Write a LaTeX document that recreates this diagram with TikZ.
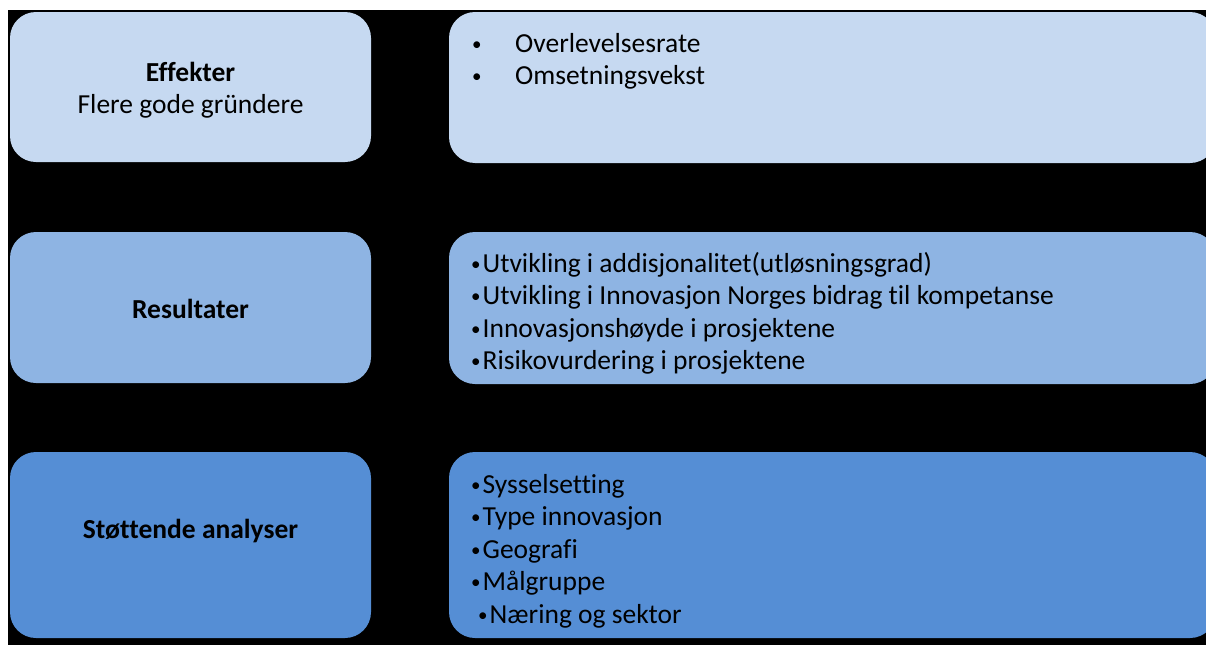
\documentclass[tikz,border=0pt]{standalone}
\usepackage{fontspec}
\setmainfont{Carlito}[Ligatures={NoCommon}]
\usetikzlibrary{positioning}

\definecolor{effekt}{HTML}{C6D9F1}
\definecolor{resultat}{HTML}{8EB4E3}
\definecolor{analyse}{HTML}{558ED5}
\newcommand{\punkt}{{\fontsize{19}{19}\selectfont\raisebox{2pt}{•}}\kern2pt}

\begin{document}
\begin{tikzpicture}[x=1pt,y=-1pt,
   boks/.style={rectangle,rounded corners=26pt,inner sep=0pt,draw=none},
   tekst/.style={inner sep=0pt,font=\fontsize{27.5}{32.5}\selectfont}]
      % \draw[help lines,step=50] (0,0) grid (1206,645);
      \useasboundingbox (0,0) rectangle (1206,645);
      \fill[white] (0,0) rectangle (1206,645);
      \fill[black] (8,10) rectangle (1206,645);

      \node[boks,fill=effekt,minimum width=361pt,minimum height=150pt] (effekter) at (190.5,87) {};
      \node[boks,fill=resultat,minimum width=361pt,minimum height=151pt] (resultater) at (190.5,307.5) {};
      \node[boks,fill=analyse,minimum width=361pt,minimum height=186pt] (analyser) at (190.5,545) {};
      \node[boks,fill=effekt,minimum width=767pt,minimum height=151pt] (effektliste) at (832.5,87.5) {};
      \node[boks,fill=resultat,minimum width=767pt,minimum height=152pt] (resultatliste) at (832.5,308) {};
      \node[boks,fill=analyse,minimum width=767pt,minimum height=186pt] (analyseliste) at (832.5,545) {};

      \node[tekst,align=center,anchor=north] (effekternavn) at (190.5,62) {\textbf{Effekter}\\Flere gode gründere};
      \node[tekst,anchor=north] (resultaternavn) at (190.5,299) {\textbf{Resultater}};
      \node[tekst,anchor=north] (analysernavn) at (190.5,519) {\textbf{Støttende analyser}};

      \node[tekst,align=left,anchor=north west] (effektpunkter) at (472,33) {\makebox[43pt][l]{\punkt}Overlevelsesrate\\\makebox[43pt][l]{\punkt}Omsetningsvekst};
      \node[tekst,align=left,anchor=north west] (resultatpunkter) at (471,252) {\punkt Utvikling i addisjonalitet(utløsningsgrad)\\\punkt Utvikling i Innovasjon Norges bidrag til kompetanse\\\punkt Innovasjonshøyde i prosjektene\\\punkt Risikovurdering i prosjektene};
      \node[tekst,align=left,anchor=north west] (analysepunkter) at (471,474) {\punkt Sysselsetting\\\punkt Type innovasjon\\\punkt Geografi\\\punkt Målgruppe\\\hspace*{7pt}\punkt Næring og sektor};
   \end{tikzpicture}
\end{document}
